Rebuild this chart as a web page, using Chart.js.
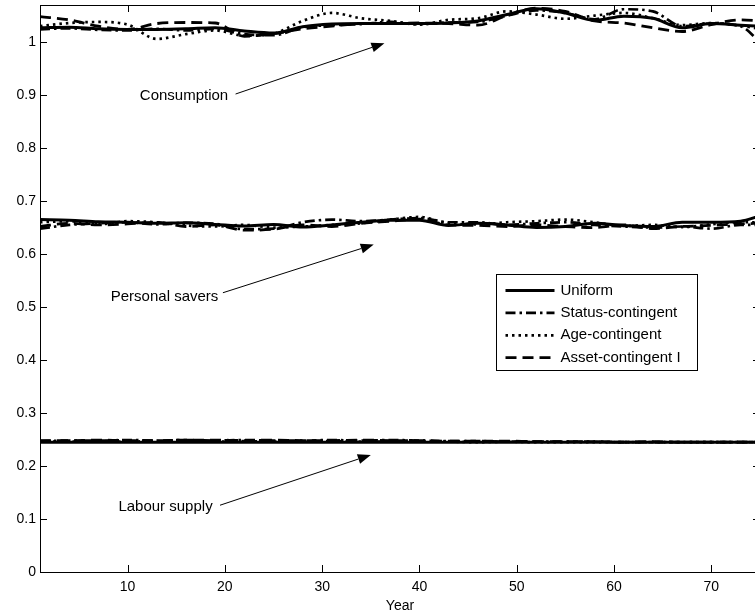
<!DOCTYPE html>
<html><head><meta charset="utf-8">
<script src="https://cdn.jsdelivr.net/npm/chart.js@4.4.1/dist/chart.umd.min.js"></script>
<style>
html,body{margin:0;padding:0;background:#fff;overflow:hidden}
#wrap{width:755px;height:616px;overflow:hidden;position:relative}
canvas{display:block}
</style>
</head><body>
<div id="wrap"><canvas id="c" width="765" height="616"></canvas></div>
<script>
// ---- data ----
const YEARS = [1,4,7,10,13,16,19,22,25,28,31,34,37,40,43,46,49,52,55,58,61,64,67,70,73,75];
const X_TICKS = [10,20,30,40,50,60,70];
const Y_TICKS = [0,0.1,0.2,0.3,0.4,0.5,0.6,0.7,0.8,0.9,1];
const SERIES_NAMES = ['Uniform','Status-contingent','Age-contingent','Asset-contingent I'];

const CONS_UNIFORM = [1.027,1.028,1.025,1.024,1.024,1.025,1.027,1.021,1.017,1.029,1.034,1.035,1.035,1.035,1.036,1.040,1.052,1.063,1.055,1.041,1.049,1.045,1.027,1.035,1.032,1.030];
const CONS_STATUS  = [1.024,1.026,1.023,1.022,1.025,1.022,1.025,1.015,1.013,1.028,1.032,1.034,1.038,1.034,1.037,1.038,1.050,1.060,1.055,1.043,1.062,1.058,1.030,1.035,1.030,1.000];
const CONS_AGE     = [1.030,1.036,1.038,1.033,1.006,1.015,1.022,1.012,1.016,1.040,1.055,1.045,1.040,1.033,1.042,1.045,1.058,1.052,1.044,1.050,1.055,1.045,1.032,1.036,1.031,1.025];
const CONS_ASSET   = [1.048,1.042,1.030,1.024,1.035,1.037,1.036,1.011,1.016,1.025,1.030,1.035,1.035,1.036,1.035,1.032,1.050,1.064,1.058,1.040,1.036,1.027,1.020,1.033,1.042,1.040];

const SAV_UNIFORM = [0.665,0.664,0.661,0.660,0.658,0.659,0.656,0.653,0.656,0.651,0.655,0.660,0.664,0.664,0.654,0.658,0.655,0.650,0.652,0.658,0.654,0.652,0.660,0.660,0.662,0.672];
const SAV_STATUS  = [0.648,0.655,0.658,0.660,0.656,0.659,0.657,0.647,0.648,0.660,0.665,0.662,0.665,0.668,0.660,0.660,0.655,0.658,0.660,0.655,0.652,0.650,0.652,0.648,0.655,0.655];
const SAV_AGE     = [0.660,0.662,0.656,0.662,0.660,0.654,0.652,0.655,0.650,0.652,0.655,0.658,0.665,0.670,0.658,0.656,0.660,0.662,0.665,0.660,0.653,0.655,0.651,0.656,0.660,0.660];
const SAV_ASSET   = [0.652,0.658,0.655,0.657,0.660,0.652,0.655,0.645,0.647,0.655,0.652,0.658,0.662,0.666,0.655,0.654,0.652,0.655,0.652,0.650,0.655,0.648,0.652,0.654,0.657,0.658];

const LAB_UNIFORM = [0.245,0.245,0.245,0.245,0.245,0.245,0.245,0.245,0.245,0.245,0.245,0.245,0.245,0.245,0.245,0.245,0.245,0.245,0.245,0.245,0.245,0.245,0.245,0.245,0.245,0.245];
const LAB_STATUS  = [0.247,0.248,0.248,0.249,0.248,0.249,0.248,0.249,0.248,0.248,0.249,0.248,0.249,0.248,0.247,0.247,0.246,0.246,0.246,0.246,0.245,0.245,0.245,0.245,0.245,0.245];
const LAB_AGE     = [0.246,0.246,0.247,0.246,0.247,0.246,0.246,0.247,0.246,0.246,0.247,0.246,0.246,0.246,0.246,0.245,0.246,0.245,0.245,0.245,0.245,0.245,0.245,0.245,0.245,0.245];
const LAB_ASSET   = [0.248,0.248,0.249,0.248,0.248,0.249,0.249,0.248,0.249,0.248,0.248,0.249,0.248,0.248,0.247,0.247,0.247,0.246,0.246,0.246,0.245,0.246,0.245,0.245,0.245,0.245];

// annotation texts and arrows (in data units)
const ANNOTATIONS = [
  {text:'Consumption',     tx:15.8, ty:0.899, x0:21.1, y0:0.902, x1:36.4, y1:0.998},
  {text:'Personal savers', tx:13.8, ty:0.519, x0:19.8, y0:0.527, x1:35.3, y1:0.618},
  {text:'Labour supply',   tx:13.9, ty:0.123, x0:19.5, y0:0.126, x1:35.0, y1:0.221}
];

// ---- styles ----
const STYLES = [
  {borderDash:[], borderWidth:3},
  {borderDash:[10,4,2.5,4], borderWidth:2.7},
  {borderDash:[2.5,4], borderWidth:2.7},
  {borderDash:[11,6], borderWidth:2.8}
];
const FONT = '"Liberation Sans", Arial, Helvetica, sans-serif';

function pts(arr){ return YEARS.map((x,i)=>({x:x,y:arr[i]})); }
const GROUPS = [
  [CONS_UNIFORM,CONS_STATUS,CONS_AGE,CONS_ASSET],
  [SAV_UNIFORM,SAV_STATUS,SAV_AGE,SAV_ASSET],
  [LAB_UNIFORM,LAB_STATUS,LAB_AGE,LAB_ASSET]
];
const datasets = [];
GROUPS.forEach((g,gi)=>{
  g.forEach((arr,si)=>{
    datasets.push({
      label: SERIES_NAMES[si],
      data: pts(arr),
      borderColor:'#000',
      backgroundColor:'#000',
      borderWidth: STYLES[si].borderWidth,
      borderDash: STYLES[si].borderDash,
      pointRadius:0,
      fill:false,
      tension:0.4,
      cubicInterpolationMode:'monotone',
      order: 4-si
    });
  });
});

const framePlugin = {
  id:'frame',
  afterDatasetsDraw(chart){
    const {ctx, chartArea:a, scales} = chart;
    ctx.save();
    ctx.strokeStyle='#000'; ctx.lineWidth=1; ctx.setLineDash([]);
    ctx.strokeRect(Math.round(a.left)+0.5, Math.round(a.top)+0.5, Math.round(a.right-a.left), Math.round(a.bottom-a.top));
    const tl=7;
    ctx.beginPath();
    X_TICKS.forEach(v=>{
      const x=Math.round(scales.x.getPixelForValue(v))+0.5;
      ctx.moveTo(x,a.bottom); ctx.lineTo(x,a.bottom-tl);
      ctx.moveTo(x,a.top); ctx.lineTo(x,a.top+tl);
    });
    Y_TICKS.forEach(v=>{
      const y=Math.round(scales.y.getPixelForValue(v))+0.5;
      ctx.moveTo(a.left,y); ctx.lineTo(a.left+tl,y);
      ctx.moveTo(a.right,y); ctx.lineTo(a.right-tl,y);
    });
    ctx.stroke();

    // annotations
    ctx.font='15px '+FONT; ctx.fillStyle='#000'; ctx.textAlign='center'; ctx.textBaseline='middle';
    ANNOTATIONS.forEach(an=>{
      const X=scales.x, Y=scales.y;
      ctx.fillText(an.text, X.getPixelForValue(an.tx), Y.getPixelForValue(an.ty));
      const x0=X.getPixelForValue(an.x0), y0=Y.getPixelForValue(an.y0);
      const x1=X.getPixelForValue(an.x1), y1=Y.getPixelForValue(an.y1);
      const ang=Math.atan2(y1-y0,x1-x0);
      const hl=13, hw=5;
      const bx=x1-hl*Math.cos(ang), by=y1-hl*Math.sin(ang);
      ctx.beginPath(); ctx.lineWidth=1;
      ctx.moveTo(x0,y0); ctx.lineTo(bx,by); ctx.stroke();
      ctx.beginPath();
      ctx.moveTo(x1,y1);
      ctx.lineTo(bx+hw*Math.sin(ang), by-hw*Math.cos(ang));
      ctx.lineTo(bx-hw*Math.sin(ang), by+hw*Math.cos(ang));
      ctx.closePath(); ctx.fill();
    });

    // legend
    const L={x:496.5,y:274.5,w:201,h:96};
    ctx.fillStyle='#fff'; ctx.fillRect(L.x,L.y,L.w,L.h);
    ctx.strokeStyle='#000'; ctx.lineWidth=1; ctx.strokeRect(L.x,L.y,L.w,L.h);
    ctx.textAlign='left'; ctx.textBaseline='middle'; ctx.font='15px '+FONT;
    SERIES_NAMES.forEach((name,i)=>{
      const yy=L.y+16+i*22.4;
      ctx.beginPath();
      ctx.lineWidth=STYLES[i].borderWidth; ctx.setLineDash(STYLES[i].borderDash);
      ctx.moveTo(L.x+9,yy); ctx.lineTo(L.x+58,yy); ctx.stroke();
      ctx.setLineDash([]);
      ctx.fillStyle='#000';
      ctx.fillText(name, L.x+64, yy);
    });
    ctx.restore();
  }
};

new Chart(document.getElementById('c'), {
  type:'line',
  data:{datasets},
  options:{
    responsive:false, animation:false, devicePixelRatio:1,
    layout:{padding:{top:5,right:5,left:0,bottom:0}},
    plugins:{legend:{display:false}, tooltip:{enabled:false}},
    scales:{
      x:{
        type:'linear', min:1, max:75,
        afterBuildTicks(s){ s.ticks = X_TICKS.map(v=>({value:v})); },
        afterFit(s){ s.height=44; s.paddingLeft=0; s.paddingRight=0; },
        grid:{display:false, drawTicks:false},
        border:{display:false},
        ticks:{color:'#000', padding:7, maxRotation:0, autoSkip:false, font:{family:FONT,size:14}},
        title:{display:true, text:'Year', color:'#000', font:{family:FONT,size:14}, padding:{top:0,bottom:1}}
      },
      y:{
        min:0, max:1.07,
        afterBuildTicks(s){ s.ticks = Y_TICKS.map(v=>({value:v})); },
        afterFit(s){ s.width=40; s.paddingTop=0; s.paddingBottom=0; },
        grid:{display:false, drawTicks:false},
        border:{display:false},
        ticks:{color:'#000', padding:4, autoSkip:false, font:{family:FONT,size:14},
          callback:(v)=>String(Math.round(v*10)/10)}
      }
    }
  },
  plugins:[framePlugin]
});
</script>
</body></html>
